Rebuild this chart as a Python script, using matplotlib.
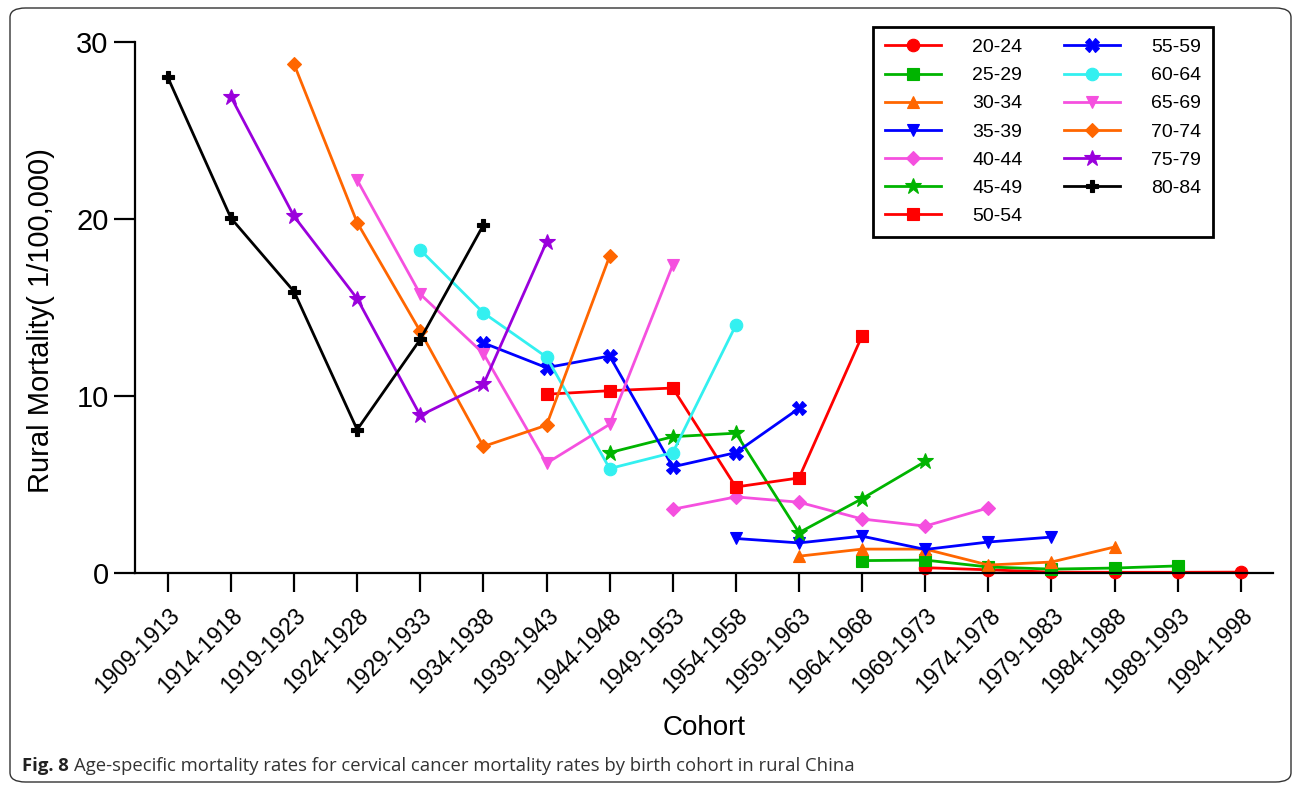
import numpy as np
import matplotlib
matplotlib.use("Agg")
import matplotlib.pyplot as plt
from matplotlib.patches import FancyBboxPatch

plt.rcParams['font.family'] = ['Liberation Sans', 'Noto Sans CJK SC', 'DejaVu Sans']

# <-- data -->
cohorts = ["1909-1913", "1914-1918", "1919-1923", "1924-1928", "1929-1933",
           "1934-1938", "1939-1943", "1944-1948", "1949-1953", "1954-1958",
           "1959-1963", "1964-1968", "1969-1973", "1974-1978", "1979-1983",
           "1984-1988", "1989-1993", "1994-1998"]

age_groups = ["20-24", "25-29", "30-34", "35-39", "40-44", "45-49", "50-54",
              "55-59", "60-64", "65-69", "70-74", "75-79", "80-84"]

# first birth cohort of each age group
first_cohort = ["1969-1973", "1964-1968", "1959-1963", "1954-1958", "1949-1953",
                "1944-1948", "1939-1943", "1934-1938", "1929-1933", "1924-1928",
                "1919-1923", "1914-1918", "1909-1913"]

rate_20_24 = [0.30, 0.18, 0.05, 0.04, 0.04, 0.05]
rate_25_29 = [0.70, 0.73, 0.34, 0.22, 0.28, 0.40]
rate_30_34 = [0.95, 1.35, 1.35, 0.45, 0.62, 1.47]
rate_35_39 = [1.95, 1.70, 2.08, 1.33, 1.75, 2.03]
rate_40_44 = [3.60, 4.30, 4.00, 3.05, 2.65, 3.68]
rate_45_49 = [6.80, 7.70, 7.90, 2.28, 4.20, 6.30]
rate_50_54 = [10.10, 10.30, 10.45, 4.86, 5.37, 13.40]
rate_55_59 = [13.00, 11.60, 12.26, 6.00, 6.80, 9.30]
rate_60_64 = [18.25, 14.70, 12.20, 5.90, 6.80, 14.00]
rate_65_69 = [22.20, 15.75, 12.40, 6.20, 8.40, 17.40]
rate_70_74 = [28.75, 19.80, 13.65, 7.15, 8.35, 17.90]
rate_75_79 = [26.90, 20.15, 15.50, 8.90, 10.65, 18.70]
rate_80_84 = [28.00, 20.05, 15.90, 8.10, 13.20, 19.66]

rates = [rate_20_24, rate_25_29, rate_30_34, rate_35_39, rate_40_44, rate_45_49,
         rate_50_54, rate_55_59, rate_60_64, rate_65_69, rate_70_74, rate_75_79,
         rate_80_84]

# <-- styles -->
red, green, orange, blue = "#FF0000", "#00B400", "#FF6600", "#0000FF"
pink, cyan, purple = "#F550DF", "#33F0F0", "#9A00DC"
colors = [red, green, orange, blue, pink, green, red, blue, cyan, pink, orange, purple, "black"]
markers = ["o", "s", "^", "v", "D", "*", "s", "X", "o", "v", "D", "*", "P"]
msizes = [9, 9, 9, 9, 7, 12, 9, 10, 9, 9, 7, 12, 8]

fig = plt.figure(figsize=(12.95, 7.86), dpi=100)
ax = fig.add_axes([135 / 1295, 1 - 573 / 786, (1273 - 135) / 1295, (573 - 42) / 786])

x_all = np.arange(len(cohorts))
for lab, start, vals, c, m, ms in zip(age_groups, first_cohort, rates, colors, markers, msizes):
    i0 = cohorts.index(start)
    xs = x_all[i0:i0 + len(vals)]
    ax.plot(xs, vals, color=c, marker=m, markersize=ms, linewidth=2.0,
            markeredgewidth=0.8, label=lab, clip_on=False)

ax.set_xlim(-0.52, len(cohorts) - 1 + 0.51)
ax.set_ylim(0, 30)
ax.set_yticks([0, 10, 20, 30])
ax.set_xticks(x_all)
ax.set_xticklabels(cohorts, rotation=45, ha="right", rotation_mode="anchor", fontsize=16.5)
ax.tick_params(axis="y", labelsize=21, length=15, width=1.6, pad=4)
ax.tick_params(axis="x", length=14, width=1.6, pad=8)
for s in ["top", "right"]:
    ax.spines[s].set_visible(False)
for s in ["left", "bottom"]:
    ax.spines[s].set_linewidth(1.6)

ax.set_ylabel("Rural Mortality( 1/100,000)", fontsize=21)
ax.yaxis.set_label_coords(-0.070, 0.475)
ax.set_xlabel("Cohort", fontsize=20, labelpad=13)

leg = ax.legend(ncol=2, loc="upper right", bbox_to_anchor=(1213 / 1295, 1 - 27 / 786),
                bbox_transform=fig.transFigure, borderaxespad=0, fontsize=14,
                handlelength=2.9, handletextpad=1.6, columnspacing=2.1,
                labelspacing=0.54, fancybox=False, framealpha=1, edgecolor="black",
                borderpad=0.6)
leg.get_frame().set_linewidth(2.0)

# caption
cap_y = 1 - 766 / 786
t1 = fig.text(22 / 1295, cap_y, "Fig. 8", fontsize=13.3, fontweight="bold",
              family=["Open Sans", "DejaVu Sans"], va="center", color="#222222")
fig.canvas.draw()
bb = t1.get_window_extent(renderer=fig.canvas.get_renderer())
fig.text((bb.x1 + 5) / 1295, cap_y,
         "Age-specific mortality rates for cervical cancer mortality rates by birth cohort in rural China",
         fontsize=13.3, family=["Open Sans", "DejaVu Sans"], va="center", color="#333333")

# rounded frame round the whole figure
frame = FancyBboxPatch((10 / 1295, 4 / 786), 1281 / 1295, 774 / 786,
                       boxstyle="round,pad=0,rounding_size=0.012",
                       transform=fig.transFigure, fill=False, edgecolor="#333333",
                       linewidth=1.0)
fig.patches.append(frame)

fig.savefig("out.png", dpi=100)
